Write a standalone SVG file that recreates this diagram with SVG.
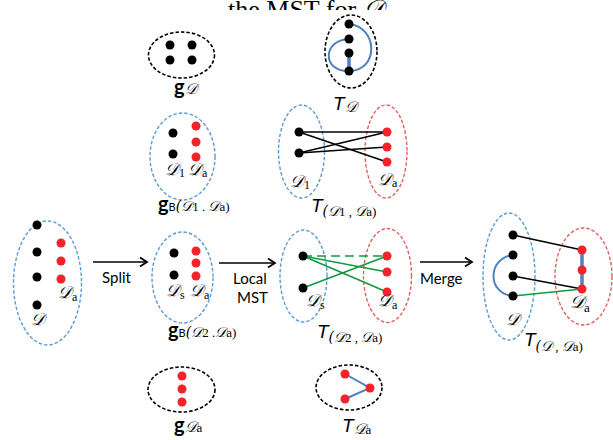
<svg xmlns="http://www.w3.org/2000/svg" width="613" height="440" viewBox="0 0 613 440">
  <defs>
    <clipPath id="topcut"><rect x="0" y="0" width="613" height="10"/></clipPath>
    <marker id="arr" markerWidth="12" markerHeight="12" refX="10" refY="6" orient="auto" markerUnits="userSpaceOnUse">
      <path d="M3,1.5 L10,6 L3,10.5" fill="none" stroke="#000" stroke-width="1.8"/>
    </marker>
  </defs>
  <style>
    .eb { fill: none; stroke: #000; stroke-width: 1.6; stroke-dasharray: 3.5 2; }
    .eblue { fill: none; stroke: #5b9bd5; stroke-width: 1.4; stroke-dasharray: 3.5 2; }
    .ered { fill: none; stroke: #e06060; stroke-width: 1.4; stroke-dasharray: 3.5 2; }
    .k { fill: #000; }
    .r { fill: #f5222a; }
    .lk { stroke: #000; stroke-width: 1.5; fill: none; }
    .lg { stroke: #119a3d; stroke-width: 1.6; fill: none; }
    .lb { stroke: #4f81bd; stroke-width: 2; fill: none; }
    .lbt { stroke: #4f81bd; stroke-width: 3.5; fill: none; }
    .cal { font-family: "DejaVu Serif", "DejaVu Sans", "Noto Sans", serif; font-style: italic; }
    .ser { font-family: "Liberation Serif", serif; }
    .sans { font-family: "Lato", "Liberation Sans", sans-serif; }
    .tt { font-family: "Liberation Sans", sans-serif; font-style: italic; font-size: 19px; }
    .gg { font-family: "Lato", "Liberation Sans", sans-serif; font-size: 20px; font-weight: bold; }
  </style>

  <!-- partially hidden heading -->
  <g clip-path="url(#topcut)">
    <text x="228" y="18" class="ser" font-size="26">the MST for <tspan class="cal">𝒟</tspan></text>
  </g>

  <!-- g_D -->
  <g id="gD">
    <ellipse cx="181.5" cy="55" rx="33" ry="23" class="eb"/>
    <circle cx="170" cy="45" r="4.5" class="k"/>
    <circle cx="192" cy="45" r="4.5" class="k"/>
    <circle cx="170" cy="60" r="4.5" class="k"/>
    <circle cx="192" cy="60" r="4.5" class="k"/>
    <text x="174" y="94" class="gg">g<tspan class="cal" font-size="15" font-weight="normal">𝒟</tspan></text>
  </g>

  <!-- T_D -->
  <g id="TD">
    <ellipse cx="351" cy="51.5" rx="26" ry="36.5" class="eb"/>
    <path d="M349,24 C378,27 379,70 350,71" class="lb"/>
    <path d="M349,39 C322,40 322,72 349,71" class="lb"/>
    <line x1="349" y1="53" x2="349" y2="71" class="lbt"/>
    <circle cx="349" cy="24" r="4.5" class="k"/>
    <circle cx="349" cy="39" r="4.5" class="k"/>
    <circle cx="349" cy="53" r="4.5" class="k"/>
    <circle cx="349" cy="71" r="4.5" class="k"/>
    <text x="333" y="110" class="tt">T<tspan class="cal" font-size="15" font-style="normal" dy="2">𝒟</tspan></text>
  </g>

  <!-- g_B(D1, Da) -->
  <g id="gB1">
    <ellipse cx="182.5" cy="156.5" rx="32.5" ry="43.5" class="eblue"/>
    <circle cx="173" cy="133" r="4.5" class="k"/>
    <circle cx="173" cy="154" r="4.5" class="k"/>
    <circle cx="196" cy="126" r="4.5" class="r"/>
    <circle cx="196" cy="142" r="4.5" class="r"/>
    <circle cx="196" cy="157" r="4.5" class="r"/>
    <text x="165" y="175" class="cal" font-size="17">𝒟<tspan class="ser" font-style="normal" font-size="12" dy="2">1</tspan></text>
    <text x="188" y="175" class="cal" font-size="17">𝒟<tspan class="ser" font-style="normal" font-size="12" dy="2">a</tspan></text>
    <text x="158" y="211" class="gg">g<tspan class="sans" font-size="11" font-weight="normal">B</tspan><tspan class="ser" font-size="13" font-weight="normal"><tspan class="cal" font-size="14">(𝒟</tspan>1 . <tspan class="cal" font-size="14">𝒟</tspan>a)</tspan></text>
  </g>

  <!-- T_(D1, Da) -->
  <g id="T1">
    <ellipse cx="301.5" cy="151.5" rx="23" ry="46.5" class="eblue"/>
    <ellipse cx="386" cy="151.5" rx="21" ry="46.5" class="ered"/>
    <g class="lk">
      <line x1="299" y1="132" x2="387" y2="132"/>
      <line x1="299" y1="132" x2="387" y2="162"/>
      <line x1="299" y1="153" x2="387" y2="132"/>
      <line x1="299" y1="153" x2="387" y2="147"/>
    </g>
    <circle cx="299" cy="132" r="4.5" class="k"/>
    <circle cx="299" cy="153" r="4.5" class="k"/>
    <circle cx="387" cy="132" r="4.5" class="r"/>
    <circle cx="387" cy="147" r="4.5" class="r"/>
    <circle cx="387" cy="162" r="4.5" class="r"/>
    <text x="290" y="187" class="cal" font-size="17">𝒟<tspan class="ser" font-style="normal" font-size="12" dy="2">1</tspan></text>
    <text x="378" y="185" class="cal" font-size="17">𝒟<tspan class="ser" font-style="normal" font-size="12" dy="2">a</tspan></text>
    <text x="311" y="212" class="tt">T<tspan class="ser" font-size="13" font-style="normal" dy="4"><tspan class="cal" font-size="14">(𝒟</tspan>1 , <tspan class="cal" font-size="14">𝒟</tspan>a)</tspan></text>
  </g>

  <!-- D with Da -->
  <g id="DD">
    <ellipse cx="47.5" cy="283" rx="34" ry="62" class="eblue"/>
    <circle cx="37" cy="225" r="4.5" class="k"/>
    <circle cx="37" cy="252" r="4.5" class="k"/>
    <circle cx="37" cy="277" r="4.5" class="k"/>
    <circle cx="37" cy="305" r="4.5" class="k"/>
    <circle cx="61" cy="243" r="4.5" class="r"/>
    <circle cx="61" cy="261" r="4.5" class="r"/>
    <circle cx="61" cy="279" r="4.5" class="r"/>
    <text x="58" y="298" class="cal" font-size="17">𝒟<tspan class="ser" font-style="normal" font-size="12" dy="3">a</tspan></text>
    <text x="31" y="325" class="cal" font-size="17">𝒟</text>
  </g>

  <!-- g_B(D2, Da) -->
  <g id="gB2">
    <ellipse cx="182.5" cy="277.5" rx="30.5" ry="45.5" class="eblue"/>
    <circle cx="174" cy="253" r="4.5" class="k"/>
    <circle cx="174" cy="275" r="4.5" class="k"/>
    <circle cx="196" cy="251" r="4.5" class="r"/>
    <circle cx="196" cy="263" r="4.5" class="r"/>
    <circle cx="196" cy="276" r="4.5" class="r"/>
    <text x="166" y="296" class="cal" font-size="17">𝒟<tspan class="ser" font-style="normal" font-size="12" dy="3">s</tspan></text>
    <text x="190" y="296" class="cal" font-size="17">𝒟<tspan class="ser" font-style="normal" font-size="12" dy="3">a</tspan></text>
    <text x="168" y="337" class="gg">g<tspan class="sans" font-size="11" font-weight="normal">B</tspan><tspan class="ser" font-size="13" font-weight="normal"><tspan class="cal" font-size="14">(𝒟</tspan>2 .<tspan class="cal" font-size="14">𝒟</tspan>a)</tspan></text>
  </g>

  <!-- T_(D2, Da) -->
  <g id="T2">
    <ellipse cx="303.5" cy="276" rx="23.5" ry="46" class="eblue"/>
    <ellipse cx="387.5" cy="275.5" rx="24" ry="47" class="ered"/>
    <line x1="303" y1="256" x2="387" y2="256" class="lg" stroke-dasharray="9 5"/>
    <line x1="303" y1="256" x2="387" y2="272" class="lg"/>
    <line x1="303" y1="256" x2="387" y2="292" class="lg"/>
    <line x1="303" y1="288" x2="387" y2="256" class="lg"/>
    <circle cx="303" cy="256" r="4.5" class="k"/>
    <circle cx="303" cy="288" r="4.5" class="k"/>
    <circle cx="387" cy="256" r="4.5" class="r"/>
    <circle cx="387" cy="272" r="4.5" class="r"/>
    <circle cx="387" cy="292" r="4.5" class="r"/>
    <text x="306" y="306" class="cal" font-size="17">𝒟<tspan class="ser" font-style="normal" font-size="12" dy="3">s</tspan></text>
    <text x="378" y="306" class="cal" font-size="17">𝒟<tspan class="ser" font-style="normal" font-size="12" dy="3">a</tspan></text>
    <text x="317" y="338" class="tt">T<tspan class="ser" font-size="13" font-style="normal" dy="4"><tspan class="cal" font-size="14">(𝒟</tspan>2 , <tspan class="cal" font-size="14">𝒟</tspan>a)</tspan></text>
  </g>

  <!-- T_(D, Da) -->
  <g id="TM">
    <ellipse cx="509" cy="276.5" rx="26" ry="63.5" class="eblue"/>
    <ellipse cx="583.5" cy="276.5" rx="28.5" ry="48.5" class="ered"/>
    <line x1="513" y1="235" x2="582" y2="250" class="lk"/>
    <line x1="513" y1="276" x2="582" y2="289" class="lk"/>
    <line x1="513" y1="296" x2="582" y2="289" class="lg"/>
    <path d="M513,255 C487,258 487,294 513,296" class="lb"/>
    <line x1="582" y1="250" x2="582" y2="289" class="lbt"/>
    <circle cx="513" cy="235" r="4.5" class="k"/>
    <circle cx="513" cy="255" r="4.5" class="k"/>
    <circle cx="513" cy="276" r="4.5" class="k"/>
    <circle cx="513" cy="296" r="4.5" class="k"/>
    <circle cx="582" cy="250" r="4.5" class="r"/>
    <circle cx="582" cy="270" r="4.5" class="r"/>
    <circle cx="582" cy="289" r="4.5" class="r"/>
    <text x="506" y="325" class="cal" font-size="17">𝒟</text>
    <text x="570" y="308" class="cal" font-size="18">𝒟<tspan class="ser" font-style="normal" font-size="13" dy="4">a</tspan></text>
    <text x="524" y="346" class="tt">T<tspan class="ser" font-size="13" font-style="normal" dy="5"><tspan class="cal" font-size="14">(𝒟</tspan> , <tspan class="cal" font-size="14">𝒟</tspan>a)</tspan></text>
  </g>

  <!-- g_Da -->
  <g id="gDa">
    <ellipse cx="181.5" cy="389.5" rx="33.5" ry="22.5" class="eb"/>
    <circle cx="182" cy="376" r="4.5" class="r"/>
    <circle cx="182" cy="389" r="4.5" class="r"/>
    <circle cx="182" cy="402" r="4.5" class="r"/>
    <text x="174" y="432" class="gg">g<tspan class="cal" font-size="15" font-weight="normal">𝒟</tspan><tspan class="ser" font-size="13" font-weight="normal">a</tspan></text>
  </g>

  <!-- T_Da -->
  <g id="TDa">
    <ellipse cx="349" cy="387.5" rx="33" ry="22.5" class="eb"/>
    <polyline points="345,374 370,388 345,399" class="lb"/>
    <circle cx="345" cy="374" r="4.5" class="r"/>
    <circle cx="370" cy="388" r="4.5" class="r"/>
    <circle cx="345" cy="399" r="4.5" class="r"/>
    <text x="342" y="432" class="tt">T<tspan class="cal" font-size="15" font-style="normal" dy="2">𝒟</tspan><tspan class="ser" font-size="13" font-style="normal">a</tspan></text>
  </g>

  <!-- step arrows -->
  <g id="connectors">
    <line x1="93" y1="262" x2="147" y2="262" class="lk" stroke-width="1.8" marker-end="url(#arr)"/>
    <line x1="219" y1="263" x2="275" y2="263" class="lk" stroke-width="1.8" marker-end="url(#arr)"/>
    <line x1="420" y1="262" x2="472" y2="262" class="lk" stroke-width="1.8" marker-end="url(#arr)"/>
    <text x="102" y="283" class="sans" font-size="15">Split</text>
    <text x="233" y="284" class="sans" font-size="15">Local</text>
    <text x="237" y="303" class="sans" font-size="15">MST</text>
    <text x="420" y="284" class="sans" font-size="15">Merge</text>
  </g>
</svg>
